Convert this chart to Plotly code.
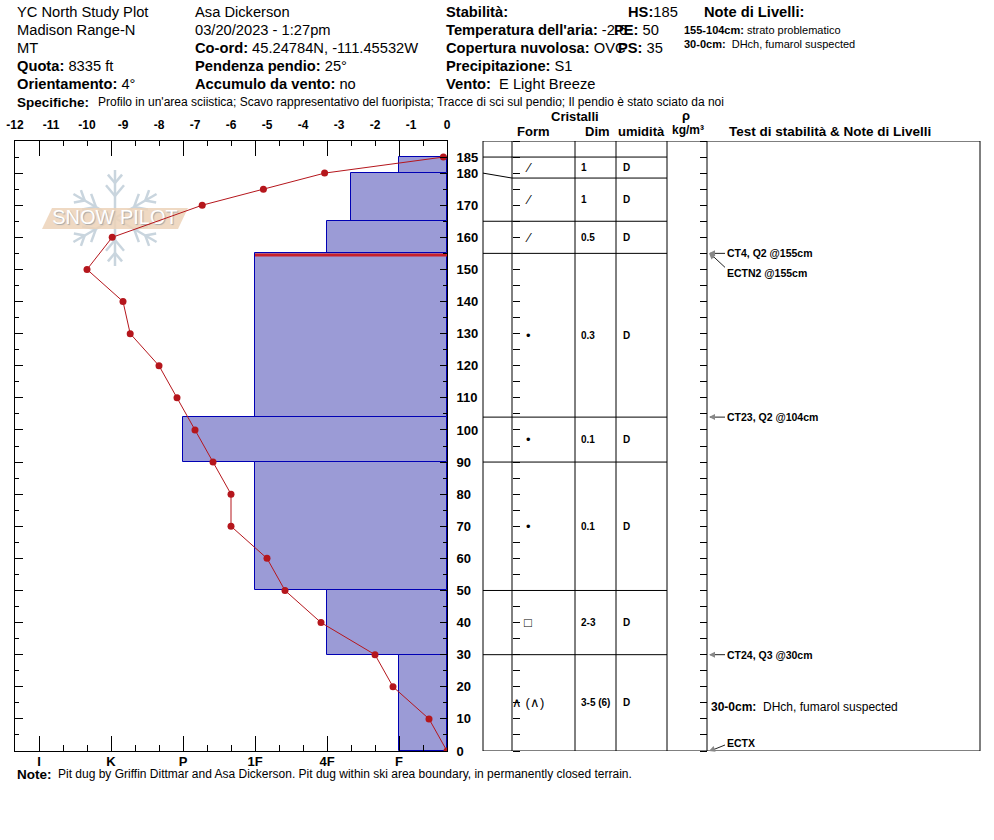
import math
import plotly.graph_objects as go

W, H = 994, 840
FONT = "Liberation Sans"

# header data
site_lines = ["YC North Study Plot", "Madison Range-N", "MT"]
observer = "Asa Dickerson"
date_time = "03/20/2023 - 1:27pm"
coords = "45.24784N, -111.45532W"
elevation = "8335 ft"
aspect = "4°"
slope = "25°"
wind_loading = "no"
air_temp = "-2.6"
sky = "OVC"
precip = "S1"
wind = "E Light Breeze"
hs, pe, ps = 185, 50, 35
specifics = ("Profilo in un'area sciistica; Scavo rappresentativo del fuoripista; "
             "Tracce di sci sul pendio; Il pendio è stato sciato da noi")
header_notes = [("155-104cm:", "strato problematico"), ("30-0cm:", " DHch, fumarol suspected")]
pit_note = ("Pit dug by Griffin Dittmar and Asa Dickerson. Pit dug within ski area boundary, "
            "in permanently closed terrain.")

# temperature profile
temp_depth = [185, 180, 175, 170, 160, 150, 140, 130, 120, 110, 100, 90, 80, 70, 60, 50, 40, 30, 20, 10, 0]
temp_value = [-0.1, -3.4, -5.1, -6.8, -9.3, -10.0, -9.0, -8.8, -8.0, -7.5, -7.0, -6.5, -6.0, -6.0,
              -5.0, -4.5, -3.5, -2.0, -1.5, -0.5, 0.0]

# layers
layer_top = [185, 180, 165, 155, 104, 90, 50, 30]
layer_bottom = [180, 165, 155, 104, 90, 50, 30, 0]
layer_hardness = ["F", "4F-", "4F", "1F", "P", "1F", "4F", "F"]
layer_form = ["⁄", "⁄", "⁄", "•", "•", "•", "□", "∧ (∧)"]
layer_size = ["1", "1", "0.5", "0.3", "0.1", "0.1", "2-3", "3-5 (6)"]
layer_wet = ["D", "D", "D", "D", "D", "D", "D", "D"]
problem_top = 155
layer_note = ("30-0cm:", "DHch, fumarol suspected", 15)

hardness_scale = ["I+", "I", "I-", "K+", "K", "K-", "P+", "P", "P-",
                  "1F+", "1F", "1F-", "4F+", "4F", "4F-", "F+", "F", "F-"]
hardness_labels = ["I", "K", "P", "1F", "4F", "F"]
temp_ticks = list(range(-12, 1))
depth_labels = [185, 180, 170, 160, 150, 140, 130, 120, 110, 100, 90, 80, 70, 60, 50, 40, 30, 20, 10, 0]

tests = ["CT4, Q2", "ECTN2", "CT23, Q2", "CT24, Q3", "ECTX"]
test_depth = [155, 155, 104, 30, 0]

# page geometry (pixels)
PL, PR, PT, PB = 15, 447, 141, 751
DMAX = 190
COLS = [483, 512, 575, 616, 667, 707, 980]
HMAX = len(hardness_scale)


def px(x):
    return x / W


def py(y):
    return 1 - y / H


CM_PER_PX = DMAX / (PB - PT)

fig = go.Figure()

# snow pilot watermark
logo_cx, logo_cy = 115, 218
flake = "#c9d5de"
shapes = []


def seg(x0, y0, x1, y1, color, width, layer="below"):
    shapes.append(dict(type="line", xref="paper", yref="paper", x0=px(x0), y0=py(y0),
                       x1=px(x1), y1=py(y1), line=dict(color=color, width=width), layer=layer))


for k in range(6):
    a = math.radians(30 + 60 * k)
    ux, uy = math.cos(a), -math.sin(a)
    seg(logo_cx, logo_cy, logo_cx + 48 * ux, logo_cy + 48 * uy, flake, 2.5)
    for dist, blen in ((22, 14), (35, 11)):
        bx, by = logo_cx + dist * ux, logo_cy + dist * uy
        for s in (-1, 1):
            b = a + s * math.radians(40)
            seg(bx, by, bx + blen * math.cos(b), by - blen * math.sin(b), flake, 2.5)

shapes.append(dict(type="path", xref="paper", yref="paper", layer="below",
                   path="M {},{} L {},{} L {},{} L {},{} Z".format(
                       px(42), py(229), px(52), py(208), px(188), py(208), px(178), py(229)),
                   fillcolor="rgba(236,210,184,0.85)", line=dict(width=0)))

h_logo = (logo_cx - PL) / (PR - PL) * HMAX
d_logo = (PB - logo_cy - 1) * CM_PER_PX
fig.add_trace(go.Scatter(x=[h_logo], y=[d_logo], mode="text", text=["SNOW PILOT"],
                         textfont=dict(family=FONT, size=20, color="white",
                                       shadow="1px 1px 1px #a8a8a8"),
                         xaxis="x", yaxis="y", hoverinfo="skip"))

# hardness bars
h_idx = [hardness_scale.index(h) for h in layer_hardness]
fig.add_trace(go.Bar(orientation="h",
                     y=[(t + b) / 2 for t, b in zip(layer_top, layer_bottom)],
                     x=[HMAX - i for i in h_idx], base=h_idx,
                     width=[t - b for t, b in zip(layer_top, layer_bottom)],
                     marker=dict(color="#9b9bd6", line=dict(color="#0000b4", width=1)),
                     xaxis="x", yaxis="y", hoverinfo="skip"))

p = layer_top.index(problem_top)
fig.add_trace(go.Scatter(x=[h_idx[p], HMAX], y=[problem_top - 0.5, problem_top - 0.5], mode="lines",
                         line=dict(color="#c8202a", width=3), xaxis="x", yaxis="y", hoverinfo="skip"))

# temperature (overlay axis, drawn above bars)
fig.add_trace(go.Scatter(x=temp_value, y=temp_depth, mode="lines+markers",
                         line=dict(color="#b5161c", width=1), marker=dict(color="#b5161c", size=7),
                         xaxis="x2", yaxis="y", hoverinfo="skip"))

# invisible anchors for tick-only axes
for xa, ya in (("x3", "y"), ("x", "y2"), ("x", "y3"), ("x", "y4")):
    fig.add_trace(go.Scatter(x=[None], y=[None], xaxis=xa, yaxis=ya, mode="markers", hoverinfo="skip"))

# table
line_k = dict(color="black", width=1)
shapes.append(dict(type="rect", xref="paper", yref="y", x0=px(COLS[0]), x1=px(COLS[-1]),
                   y0=0, y1=DMAX, line=line_k))
for c in COLS[1:-1]:
    shapes.append(dict(type="line", xref="paper", yref="y", x0=px(c), x1=px(c), y0=0, y1=DMAX, line=line_k))

min_row = 21 * CM_PER_PX
disp = [layer_top[0]]
for b in layer_bottom[:-1]:
    disp.append(min(b, disp[-1] - min_row))
disp.append(0)

for real, shown in zip(layer_top, disp[:-1]):
    shapes.append(dict(type="line", xref="paper", yref="y", x0=px(COLS[0]), x1=px(COLS[1]),
                       y0=real, y1=shown, line=line_k))
    shapes.append(dict(type="line", xref="paper", yref="y", x0=px(COLS[1]), x1=px(COLS[4]),
                       y0=shown, y1=shown, line=line_k))

ann = []


def txt(x, y, s, size, bold=False, xanchor="left", yref="paper", color="black"):
    ann.append(dict(x=x, y=y, xref="paper", yref=yref, text="<b>%s</b>" % s if bold else s,
                    showarrow=False, xanchor=xanchor, yanchor="middle",
                    font=dict(family=FONT, size=size, color=color)))


for i in range(len(layer_top)):
    mid = (disp[i] + disp[i + 1]) / 2
    txt(px(528), mid, layer_form[i], 13, xanchor="center", yref="y")
    txt(px(579), mid, layer_size[i], 10, bold=True, yref="y")
    txt(px(621), mid, layer_wet[i], 10, bold=True, yref="y")

# stability tests: leader line drawn as a shape, arrowhead as an annotation
prev = None
for name, d in zip(tests, test_depth):
    off = 20 if d == prev else 0
    if d == 0:
        off = -8
    prev = d
    label = name if name.endswith("X") else "%s @%dcm" % (name, d)
    tail = 0 if off == 0 else (14 if off > 0 else -6)
    d_tail = d - tail * CM_PER_PX
    shapes.append(dict(type="line", xref="paper", yref="y", x0=px(710), y0=d, x1=px(725), y1=d_tail,
                       line=dict(color="#222222", width=1)))
    ann.append(dict(x=px(709), y=d, xref="paper", yref="y", text=" ", showarrow=True,
                    ax=8, ay=round(tail * 8 / 16), axref="pixel", ayref="pixel", arrowhead=2,
                    arrowsize=1, arrowwidth=1.2, arrowcolor="#888888", standoff=0))
    ann.append(dict(x=px(725), y=d, xref="paper", yref="y", text="<b>%s</b>" % label, yshift=-off,
                    showarrow=False, xanchor="left", yanchor="middle",
                    font=dict(family=FONT, size=10.5, color="black")))

ann.append(dict(x=px(709), y=layer_note[2], xref="paper", yref="y", yshift=-4,
                text="<b>%s</b>  %s" % layer_note[:2], showarrow=False, xanchor="left",
                yanchor="middle", font=dict(family=FONT, size=12, color="black")))

# header
HF = 14.7
rows = [12, 30, 48, 66, 84]
for y, s in zip(rows, site_lines):
    txt(px(15), py(y), s, HF)
txt(px(15), py(rows[3]), "<b>Quota:</b> " + elevation, HF)
txt(px(15), py(rows[4]), "<b>Orientamento:</b> " + aspect, HF)
txt(px(193), py(rows[0]), observer, HF)
txt(px(193), py(rows[1]), date_time, HF)
txt(px(193), py(rows[2]), "<b>Co-ord:</b> " + coords, HF)
txt(px(193), py(rows[3]), "<b>Pendenza pendio:</b> " + slope, HF)
txt(px(193), py(rows[4]), "<b>Accumulo da vento:</b> " + wind_loading, HF)
txt(px(444), py(rows[0]), "<b>Stabilità:</b>", HF)
txt(px(444), py(rows[1]), "<b>Temperatura dell'aria:</b> " + air_temp, HF)
txt(px(444), py(rows[2]), "<b>Copertura nuvolosa:</b> " + sky, HF)
txt(px(444), py(rows[3]), "<b>Precipitazione:</b> " + precip, HF)
txt(px(444), py(rows[4]), "<b>Vento:</b>  " + wind, HF)
txt(px(626), py(rows[0]), "<b>HS:</b>%d" % hs, HF)
txt(px(612), py(rows[1]), "<b>PE:</b> %d" % pe, HF)
txt(px(616), py(rows[2]), "<b>PS:</b> %d" % ps, HF)
txt(px(702), py(rows[0]), "<b>Note di Livelli:</b>", HF)
for y, (a, b) in zip((30, 44), header_notes):
    txt(px(682), py(y), "<b>%s</b> %s" % (a, b), 11)
txt(px(15), py(102), "<b>Specifiche:</b>", 13.5)
txt(px(96), py(102), specifics, 12)
txt(px(15), py(774), "<b>Note:</b>", 13.5)
txt(px(56), py(774), pit_note, 12)

# table header
txt(px(575), py(117), "Cristalli", 13, bold=True, xanchor="center")
txt(px(533), py(131), "Form", 13, bold=True, xanchor="center")
txt(px(597), py(131), "Dim", 13, bold=True, xanchor="center")
txt(px(641), py(131), "umidità", 13, bold=True, xanchor="center")
txt(px(686), py(116), "ρ", 13, bold=True, xanchor="center")
txt(px(688), py(130), "kg/m³", 12, bold=True, xanchor="center")
txt(px(727), py(131), "Test di stabilità & Note di Livelli", 13.5, bold=True)

ax_common = dict(showgrid=False, zeroline=False, linecolor="black", linewidth=1, tickcolor="black",
                 automargin=False)
dom_x = [px(PL), px(PR)]
dom_y = [py(PB), py(PT)]
hard_ticks = [hardness_scale.index(h) for h in hardness_labels]

fig.update_layout(
    template="none",
    width=W, height=H, margin=dict(l=0, r=0, t=0, b=0, pad=0),
    paper_bgcolor="white", plot_bgcolor="white", showlegend=False, bargap=0,
    shapes=shapes, annotations=ann,
    xaxis=dict(domain=dom_x, range=[0, HMAX], side="bottom", anchor="y",
               tickvals=hard_ticks, ticktext=["<b>%s</b>" % h for h in hardness_labels],
               ticks="inside", ticklen=15, showline=True, ticklabelstandoff=-2,
               minor=dict(tick0=0, dtick=1, ticks="inside", ticklen=6, tickcolor="black"),
               tickfont=dict(family=FONT, size=13, color="black"), **ax_common),
    xaxis2=dict(overlaying="x", range=[-12, 0], side="top", anchor="y",
                tickvals=temp_ticks, ticktext=["<b>%d</b>" % t for t in temp_ticks],
                ticks="", showline=True, ticklabelstandoff=6,
                tickfont=dict(family=FONT, size=12, color="black"), **ax_common),
    xaxis3=dict(overlaying="x", range=[0, HMAX], side="top", anchor="y",
                tickvals=hard_ticks, showticklabels=False, ticks="inside", ticklen=15, showline=False,
                minor=dict(tick0=0, dtick=1, ticks="inside", ticklen=5, tickcolor="black"),
                **ax_common),
    yaxis=dict(domain=dom_y, range=[0, DMAX], anchor="x", side="left", showline=True,
               tick0=0, dtick=10, ticks="inside", ticklen=8, showticklabels=False,
               minor=dict(tick0=0, dtick=5, ticks="inside", ticklen=4, tickcolor="black"),
               **ax_common),
    yaxis2=dict(overlaying="y", range=[0, DMAX], anchor="x", side="right", showline=True,
                tickvals=depth_labels, ticktext=["<b>%d</b>" % d for d in depth_labels],
                ticks="inside", ticklen=7, ticklabelstandoff=6,
                minor=dict(tick0=0, dtick=5, ticks="inside", ticklen=4, tickcolor="black"),
                tickfont=dict(family=FONT, size=13, color="black"), **ax_common),
    yaxis3=dict(overlaying="y", range=[0, DMAX], anchor="free", position=px(COLS[1]), side="right",
                tick0=0, dtick=5, ticks="outside", ticklen=7, showticklabels=False, showline=False,
                **ax_common),
    yaxis4=dict(overlaying="y", range=[0, DMAX], anchor="free", position=px(COLS[5]), side="left",
                tick0=0, dtick=5, ticks="outside", ticklen=7, showticklabels=False, showline=False,
                **ax_common),
)

fig.write_html("out.html", config={"displayModeBar": False},
               post_script="document.body.style.margin='0';")
